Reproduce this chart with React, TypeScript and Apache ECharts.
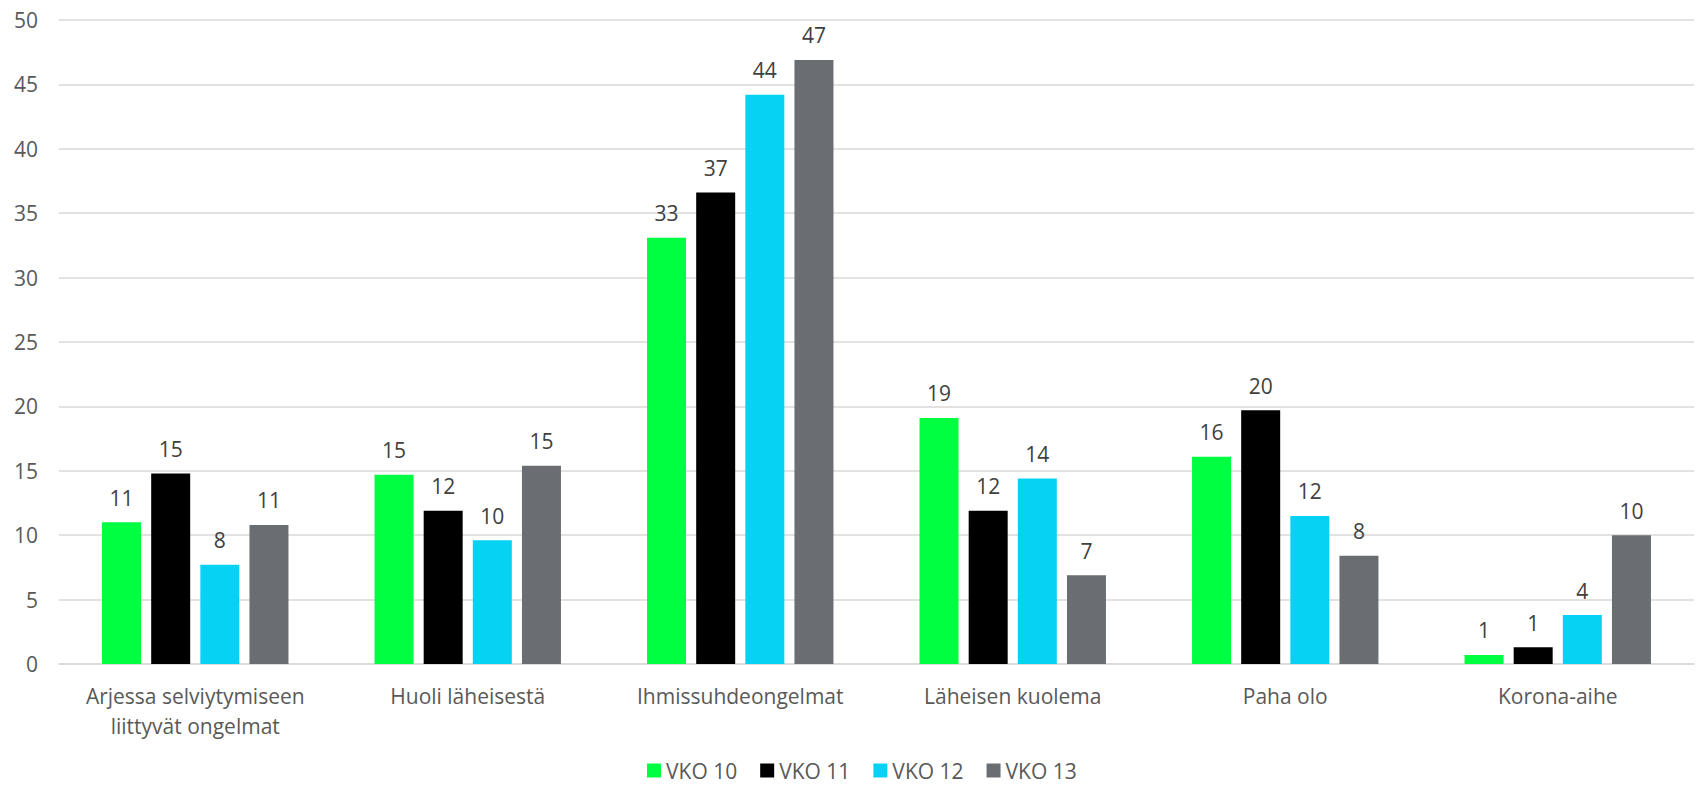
import React, { useEffect, useRef } from "react";
import * as echarts from "echarts";

const categories = [
  "Arjessa selviytymiseen\nliittyvät ongelmat",
  "Huoli läheisestä",
  "Ihmissuhdeongelmat",
  "Läheisen kuolema",
  "Paha olo",
  "Korona-aihe",
];
const seriesNames = ["VKO 10", "VKO 11", "VKO 12", "VKO 13"];
const vko10 = [11.0, 14.7, 33.1, 19.1, 16.1, 0.7];
const vko11 = [14.8, 11.9, 36.6, 11.9, 19.7, 1.3];
const vko12 = [7.7, 9.6, 44.2, 14.4, 11.5, 3.8];
const vko13 = [10.8, 15.4, 46.9, 6.9, 8.4, 10.0];
const colors = ["#00FF40", "#000000", "#06D3F4", "#6A6E72"];

const FONT = "'Open Sans', sans-serif";

export default function App() {
  const ref = useRef<HTMLDivElement>(null);
  useEffect(() => {
    if (!ref.current) return;
    const chart = echarts.init(ref.current, undefined, { renderer: "svg" });
    const data = [vko10, vko11, vko12, vko13];
    chart.setOption({
      animation: false,
      textStyle: { fontFamily: FONT },
      grid: { left: 59, right: 4, top: 20, bottom: 124, containLabel: false },
      legend: {
        data: seriesNames,
        top: 760,
        left: 647,
        padding: 0,
        itemWidth: 14,
        itemHeight: 14,
        itemGap: 23,
        icon: "rect",
        textStyle: { fontSize: 21, color: "#595959", fontFamily: FONT },
      },
      xAxis: {
        type: "category",
        data: categories,
        axisTick: { show: false },
        axisLine: { lineStyle: { color: "#d9d9d9", width: 1.5 } },
        axisLabel: {
          interval: 0,
          fontSize: 21,
          color: "#595959",
          lineHeight: 30,
          margin: 17,
          fontFamily: FONT,
        },
      },
      yAxis: {
        type: "value",
        min: 0,
        max: 50,
        interval: 5,
        axisLine: { show: false },
        axisTick: { show: false },
        splitLine: { lineStyle: { color: "#d9d9d9", width: 1.5 } },
        axisLabel: { fontSize: 21, color: "#595959", margin: 21, fontFamily: FONT },
      },
      series: seriesNames.map((name, i) => ({
        name,
        type: "bar",
        data: data[i],
        barWidth: 39,
        barGap: "26%",
        itemStyle: { color: colors[i] },
        label: {
          show: true,
          position: "top",
          distance: 14,
          fontSize: 21,
          color: "#404040",
          fontFamily: FONT,
          formatter: (p: any) => String(Math.round(p.value)),
        },
      })),
    });
    return () => chart.dispose();
  }, []);
  return (
    <div
      ref={ref}
      style={{ width: 1698, height: 788, position: "absolute", left: 0, top: 0 }}
    />
  );
}
